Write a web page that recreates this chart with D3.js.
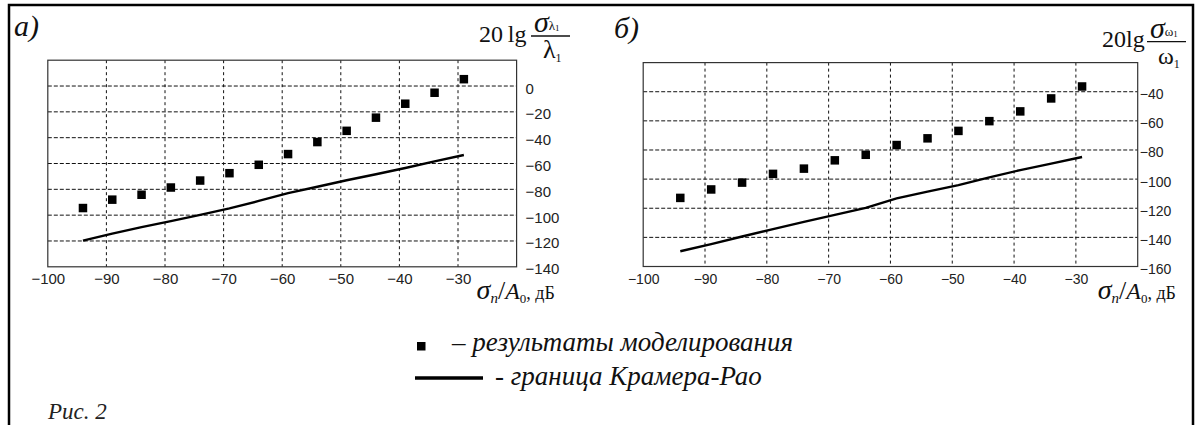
<!DOCTYPE html>
<html><head><meta charset="utf-8">
<script src="https://cdn.jsdelivr.net/npm/d3@7"></script>
<style>body{margin:0;background:#fff}svg{display:block}</style>
</head><body>
<svg id="c" width="1199" height="425"></svg>
<script>
// ---- data ----
const snrDb = [-94, -89, -84, -79, -74, -69, -64, -59, -54, -49, -44, -39, -34, -29];
const simLambda = [-94.5, -88, -84.2, -78.6, -73.2, -67.5, -61, -52.7, -43.4, -34.7, -24.5, -13.7, -5.2, 5.3];
const crbLambda = [-119.7, -114.3, -109.3, -104.6, -99.8, -94.8, -89, -83, -78, -73, -68.3, -63.5, -58.3, -53.4];
const simOmega = [-112.9, -107.1, -102.4, -96.4, -92.8, -87.1, -83.3, -76.6, -72, -66.9, -60.2, -53.5, -44.6, -36.4];
const crbOmega = [-149.5, -144.6, -139.4, -134.3, -129.4, -124.6, -119.8, -113.2, -108.6, -104.1, -98.8, -93.8, -89.4, -84.8];
const xTicks = [-100, -90, -80, -70, -60, -50, -40, -30];
const yTicksA = [0, -20, -40, -60, -80, -100, -120, -140];
const yTicksB = [-40, -60, -80, -100, -120, -140, -160];
const panelLabels = ["а)", "б)"];
const legendLabels = ["– результаты моделирования", "- граница Крамера-Рао"];
const figCaption = "Рис. 2";

const svg = d3.select("#c");
const SERIF = "Liberation Serif";
const SANS = "Liberation Sans";

// outer border (bottom cut off)
svg.append("path").attr("d", "M9,430 V5 H1193 V430")
  .attr("fill", "none").attr("stroke", "#000").attr("stroke-width", 2.5);

function panel(o) {
  const x = d3.scaleLinear().domain([-100, -20]).range([o.x0, o.x1]);
  const y = d3.scaleLinear().domain(o.yDom).range([o.y1, o.y0]);
  const g = svg.append("g");
  // grid
  g.selectAll(".gx").data(xTicks.filter(v => v > -100)).join("line")
    .attr("x1", d => x(d)).attr("x2", d => x(d)).attr("y1", o.y0).attr("y2", o.y1)
    .attr("stroke", "#111").attr("stroke-width", 1).attr("stroke-dasharray", "3,3");
  g.selectAll(".gy").data(o.yTicks.filter(v => v > o.yDom[0])).join("line")
    .attr("x1", o.x0).attr("x2", o.x1).attr("y1", d => y(d)).attr("y2", d => y(d))
    .attr("stroke", "#111").attr("stroke-width", 1).attr("stroke-dasharray", "4,2");
  // frame
  g.append("rect").attr("x", o.x0).attr("y", o.y0).attr("width", o.x1 - o.x0).attr("height", o.y1 - o.y0)
    .attr("fill", "none").attr("stroke", "#333").attr("stroke-width", 1.2);
  // axes labels
  const ax = d3.axisBottom(x).tickValues(xTicks).tickSize(0).tickPadding(0).tickFormat(d3.format("d"));
  const gxA = g.append("g").attr("transform", `translate(0,${o.y1})`).call(ax);
  gxA.select(".domain").remove();
  gxA.selectAll("text").attr("y", 17).attr("dy", 0)
    .attr("font-family", SANS).attr("font-size", o.fs).attr("fill", "#222");
  const ay = d3.axisRight(y).tickValues(o.yTicks).tickSize(0).tickPadding(0).tickFormat(d3.format("d"));
  const gyA = g.append("g").attr("transform", `translate(${o.x1 + o.lblGap},0)`).call(ay);
  gyA.select(".domain").remove();
  gyA.selectAll("text").attr("x", 0).attr("dy", 0).attr("y", 7)
    .attr("font-family", SANS).attr("font-size", o.fs).attr("fill", "#222");
  // CRB line
  const line = d3.line().x((d, i) => x(snrDb[i])).y(d => y(d));
  g.append("path").datum(o.crb).attr("d", line)
    .attr("fill", "none").attr("stroke", "#000").attr("stroke-width", 2.4);
  // simulation squares
  const s = 8.5;
  g.selectAll(".pt").data(o.sim).join("rect")
    .attr("x", (d, i) => x(snrDb[i]) - s / 2).attr("y", d => y(d) - s / 2)
    .attr("width", s).attr("height", s).attr("fill", "#000");
  // panel letter
  g.append("text").attr("x", o.lx).attr("y", o.ly).text(o.label)
    .attr("font-family", SERIF).attr("font-style", "italic").attr("font-size", 30).attr("fill", "#111");
  // x axis title
  const t = g.append("text").attr("x", o.x1 - 40).attr("y", 299)
    .attr("font-family", SERIF).attr("fill", "#111");
  t.append("tspan").text("σ").attr("font-style", "italic").attr("font-size", 28);
  t.append("tspan").text("n").attr("font-style", "italic").attr("font-size", 15).attr("dy", 4);
  t.append("tspan").text("/").attr("font-size", 26).attr("dy", -4);
  t.append("tspan").text("A").attr("font-style", "italic").attr("font-size", 24);
  t.append("tspan").text("0").attr("font-size", 13).attr("dy", 4);
  t.append("tspan").text(", дБ").attr("font-size", 18).attr("dy", -4);
  // y axis title
  const yt = o.yt;
  g.append("text").attr("x", yt.x).attr("y", yt.base).text(yt.pre)
    .attr("font-family", SERIF).attr("font-size", 24).attr("fill", "#111");
  const num = g.append("text").attr("x", yt.fx).attr("y", yt.bar - 4)
    .attr("font-family", SERIF).attr("fill", "#111");
  num.append("tspan").text("σ").attr("font-style", "italic").attr("font-size", 30);
  num.append("tspan").text(yt.sym).attr("font-size", 13).attr("dy", -2);
  num.append("tspan").text("1").attr("font-size", 9).attr("dy", 1);
  g.append("line").attr("x1", yt.fx - 3).attr("x2", yt.fx + 36).attr("y1", yt.bar).attr("y2", yt.bar)
    .attr("stroke", "#111").attr("stroke-width", 1.3);
  const den = g.append("text").attr("x", yt.fx + yt.dx).attr("y", yt.bar + 22)
    .attr("font-family", SERIF).attr("fill", "#111");
  den.append("tspan").text(yt.sym).attr("font-size", yt.dfs);
  den.append("tspan").text("1").attr("font-size", 12).attr("dy", 4);
}

panel({x0: 47.8, x1: 516.6, y0: 60.2, y1: 266.8, yDom: [-140, 20], yTicks: yTicksA,
  sim: simLambda, crb: crbLambda, fs: 15, lblGap: 9, label: panelLabels[0], lx: 14, ly: 36,
  yt: {x: 479, base: 42, pre: "20\u2009lg", fx: 534, bar: 36, sym: "λ", dx: 9, dfs: 26}});
panel({x0: 643.2, x1: 1137.7, y0: 62.6, y1: 266.5, yDom: [-160, -20], yTicks: yTicksB,
  sim: simOmega, crb: crbOmega, fs: 14, lblGap: 2, label: panelLabels[1], lx: 614, ly: 38,
  yt: {x: 1102, base: 47, pre: "20lg", fx: 1150, bar: 41.7, sym: "ω", dx: 8, dfs: 24}});

// legend
const lg = svg.append("g");
lg.append("rect").attr("x", 417).attr("y", 342).attr("width", 8.5).attr("height", 8.5).attr("fill", "#000");
lg.append("text").attr("x", 452).attr("y", 351).text(legendLabels[0])
  .attr("font-family", SERIF).attr("font-style", "italic").attr("font-size", 27).attr("fill", "#111");
lg.append("line").attr("x1", 415).attr("x2", 483).attr("y1", 378).attr("y2", 378)
  .attr("stroke", "#000").attr("stroke-width", 3.5);
lg.append("text").attr("x", 495).attr("y", 385).text(legendLabels[1])
  .attr("font-family", SERIF).attr("font-style", "italic").attr("font-size", 27).attr("fill", "#111");
svg.append("text").attr("x", 48).attr("y", 419).text(figCaption)
  .attr("font-family", SERIF).attr("font-style", "italic").attr("font-size", 23).attr("fill", "#222");
</script>
</body></html>
